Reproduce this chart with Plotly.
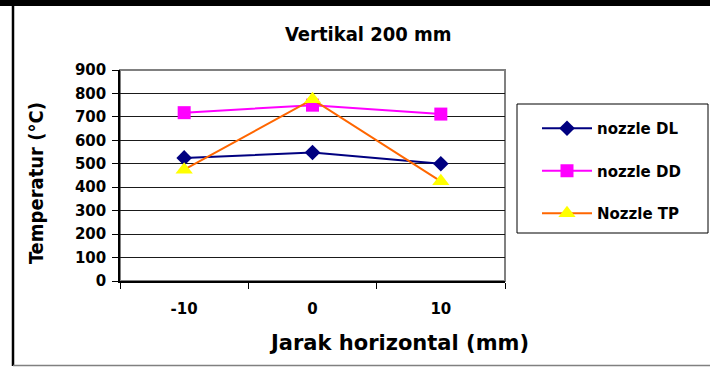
import plotly.graph_objects as go

categories = ["-10", "0", "10"]
nozzle_dl = [525, 548, 500]
nozzle_dd = [718, 750, 712]
nozzle_tp = [475, 775, 425]
y_ticks = [0, 100, 200, 300, 400, 500, 600, 700, 800, 900]

W, H = 710, 367
L, R, T, B = 120, 505, 70, 281  # plot area in pixels


def px(x):
    return (x - L) / (R - L)


def py(y):
    return (B - y) / (B - T)


fig = go.Figure()
fig.add_trace(go.Scatter(
    x=categories, y=nozzle_dl, name="nozzle DL", mode="lines+markers",
    line=dict(color="#000080", width=2),
    marker=dict(symbol="diamond", size=12, color="#000080"),
    legendgroup="a"))
fig.add_trace(go.Scatter(
    x=categories, y=nozzle_dd, name="nozzle DD", mode="lines+markers",
    line=dict(color="#FF00FF", width=2),
    marker=dict(symbol="square", size=13, color="#FF00FF"),
    legendgroup="b"))
fig.add_trace(go.Scatter(
    x=categories, y=nozzle_tp, name="Nozzle TP", mode="lines+markers",
    line=dict(color="#FF6600", width=2),
    marker=dict(symbol="triangle-up", size=15, color="#FFFF00"),
    legendgroup="c"))

shapes = [
    dict(type="rect", xref="x domain", yref="y domain", x0=0, x1=1, y0=0, y1=1,
         line=dict(color="#808080", width=2), layer="below"),
    dict(type="rect", xref="paper", yref="paper", x0=px(0), x1=px(W), y0=py(0), y1=py(6),
         fillcolor="black", line=dict(width=0)),
    dict(type="line", xref="paper", yref="paper", x0=px(13), x1=px(13), y0=py(6), y1=py(366),
         line=dict(color="black", width=2.5)),
    dict(type="line", xref="paper", yref="paper", x0=px(13), x1=px(W), y0=py(365.5), y1=py(365.5),
         line=dict(color="#808080", width=1.5)),
    dict(type="rect", xref="paper", yref="paper", x0=px(517), x1=px(708), y0=py(104), y1=py(233),
         line=dict(color="black", width=1)),
]

annotations = [
    dict(text="<b>Vertikal 200 mm</b>", xref="paper", yref="paper", x=px(368), y=py(34),
         showarrow=False,
         font=dict(family="DejaVu Sans Condensed, Liberation Sans Narrow, Roboto Condensed, sans-serif",
                   size=20, color="black"),
         xanchor="center", yanchor="middle"),
    dict(text="<b>Temperatur (°C)</b>", xref="paper", yref="paper", x=px(36), y=py(183),
         showarrow=False, textangle=-90,
         font=dict(family="DejaVu Sans Condensed, Liberation Sans, sans-serif", size=20, color="black"),
         xanchor="center", yanchor="middle"),
    dict(text="<b>Jarak horizontal (mm)</b>", xref="paper", yref="paper", x=px(399), y=py(343),
         showarrow=False, font=dict(family="DejaVu Sans", size=21, color="black"),
         xanchor="center", yanchor="middle"),
]

fig.update_layout(
    width=W, height=H,
    margin=dict(l=L, r=W - R, t=T, b=H - B, pad=0),
    paper_bgcolor="white", plot_bgcolor="white",
    font=dict(family="DejaVu Sans", color="black"),
    showlegend=True,
    legend=dict(x=px(537), y=py(112), xanchor="left", yanchor="top",
                bgcolor="rgba(0,0,0,0)", borderwidth=0, itemwidth=50,
                font=dict(family="DejaVu Sans", size=15, color="black", weight="bold"),
                traceorder="grouped", tracegroupgap=20),
    shapes=shapes,
    annotations=annotations,
)

fig.update_xaxes(
    type="category", tickson="boundaries", ticks="outside", ticklen=6,
    tickcolor="black", showline=True, linecolor="black", linewidth=1.5,
    showgrid=False, zeroline=False, ticklabelstandoff=13,
    tickfont=dict(family="DejaVu Sans", size=15, color="black", weight="bold"),
    range=[-0.5, 2.5],
)
fig.update_yaxes(
    range=[0, 900], tickvals=y_ticks, ticks="outside", ticklen=6,
    tickcolor="black", showline=True, linecolor="black", linewidth=1.5,
    showgrid=True, gridcolor="#1a1a1a", gridwidth=1, zeroline=False,
    ticklabelstandoff=3,
    tickfont=dict(family="DejaVu Sans", size=15, color="black", weight="bold"),
)

fig.write_html("out.html")
